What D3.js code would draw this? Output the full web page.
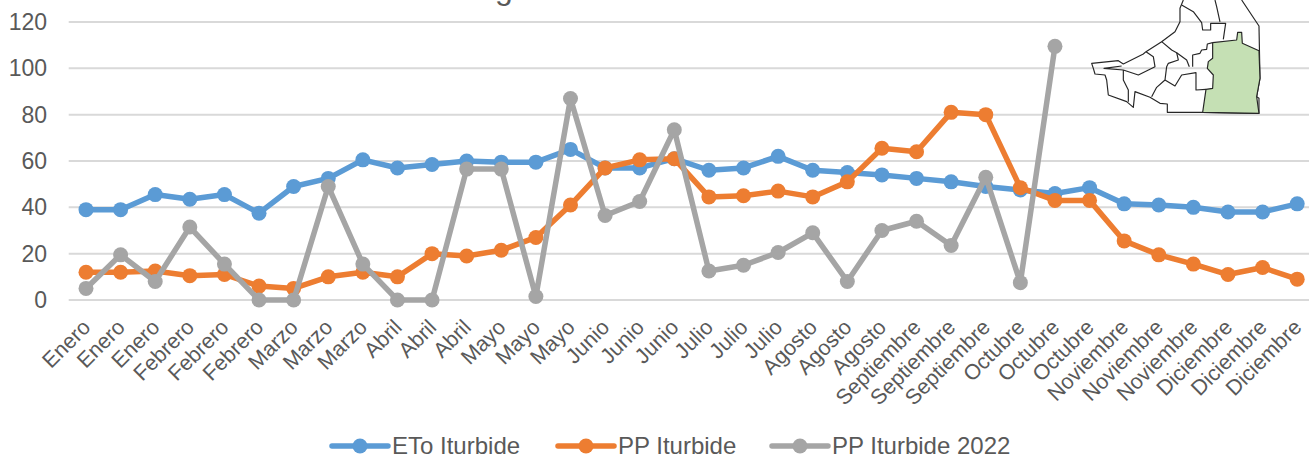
<!DOCTYPE html>
<html><head><meta charset="utf-8">
<script src="https://cdn.jsdelivr.net/npm/d3@7"></script>
<style>html,body{margin:0;padding:0;background:#fff;overflow:hidden}svg{display:block;font-family:"Liberation Sans",Arial,sans-serif}</style>
</head><body><svg id="c" width="1309" height="454"></svg>
<script>
const categories=["Enero","Enero","Enero","Febrero","Febrero","Febrero","Marzo","Marzo","Marzo","Abril","Abril","Abril","Mayo","Mayo","Mayo","Junio","Junio","Junio","Julio","Julio","Julio","Agosto","Agosto","Agosto","Septiembre","Septiembre","Septiembre","Octubre","Octubre","Octubre","Noviembre","Noviembre","Noviembre","Diciembre","Diciembre","Diciembre"];
const eto=[39,39,45.5,43.5,45.5,37.5,49,52.5,60.5,57,58.5,60,59.5,59.5,65,57,57,61,56,57,62,56,55,54,52.5,51,49,47.5,46,48.5,41.5,41,40,38,38,41.5];
const pp=[12,12,12.5,10.5,11,6,5,10,12,10,20,19,21.5,27,41,57,60.5,61,44.5,45,47,44.5,51,65.5,64,81,80,48.5,43,43,25.5,19.5,15.5,11,14,9];
const pp2022=[5,19.5,8,31.5,15.5,0,0,49,15.5,0,0,56.5,56.5,1.5,87,36.5,42.5,73.5,12.5,15,20.5,29,8,30,34,23.5,53,7.5,109.5];
const yTicks=[0,20,40,60,80,100,120];
const seriesNames=["ETo Iturbide","PP Iturbide","PP Iturbide 2022"];
const seriesColors=["#5b9bd5","#ed7d31","#a5a5a5"];
const seriesValues=[eto,pp,pp2022];
const legendX=[332,558,772];

const svg=d3.select("#c");
const x=d3.scaleBand().domain(d3.range(categories.length)).range([68.7,1314.5]);
const y=d3.scaleLinear().domain([0,120]).range([300,22]);
const font=23, txt="#595959";

svg.append("text").attr("x",504).attr("y",-1).attr("text-anchor","middle").attr("font-size",32).attr("fill",txt).text("g");

svg.append("g").selectAll("line").data(yTicks).join("line")
 .attr("x1",68.7).attr("x2",1309).attr("y1",d=>y(d)).attr("y2",d=>y(d))
 .attr("stroke","#d9d9d9").attr("stroke-width",2);

svg.append("g").selectAll("text").data(yTicks).join("text")
 .attr("x",47).attr("y",d=>y(d)+8).attr("text-anchor","end").attr("font-size",font).attr("fill",txt).text(d=>d);

svg.append("g").selectAll("text").data(categories).join("text")
 .attr("text-anchor","end").attr("font-size",21.5).attr("fill",txt)
 .attr("transform",(d,i)=>`translate(${x(i)+x.bandwidth()/2-5},${318}) rotate(-45)`)
 .attr("dy","0.7em").text(d=>d);

const mapG=svg.append("g").attr("transform","translate(1060,0) scale(0.3333)")
 .attr("fill","none").attr("stroke","#262626").attr("stroke-width",3.5).attr("stroke-linejoin","round");
const mapOutline="M370,0 L360,25 L360,65 L345,95 L305,125 L258,155 L250,162 L190,192 L175,182 L95,190 L100,205 L105,222 L135,225 L140,240 L145,285 L200,305 L220,322 L225,275 L270,292 L300,310 L322,312 L322,337 L428,337 L597,340 L597,295 L590,290 L600,235 L597,78 L585,60 L545,0";
mapG.append("path").attr("d",mapOutline);
const mapRegion="M458,128 L530,120 L533,97 L545,97 L547,130 L597,152 L600,235 L590,290 L597,340 L428,337 L438,268 L458,265 L460,225 L442,205 L445,185 L458,175 Z";
mapG.append("path").attr("d",mapRegion).attr("fill","#c5e0b4");
const mapLines=[
"M365,15 L400,35 L425,68 L428,90 L452,90 L452,70 L497,70 L490,118",
"M465,0 L470,20 L480,66",
"M305,125 L335,150 L350,158 L380,180 L388,200",
"M458,128 L442,132 L440,148 L425,150 L420,160 L398,165 L398,200",
"M258,155 L280,170 L285,200 L235,225 L190,210 L132,205 L185,198",
"M350,158 L355,180 L325,190 L320,200 L315,240 L290,262 L275,290",
"M315,240 L345,258 L365,225 L408,218 L408,270 L438,268",
"M190,210 L190,240 L205,270 L205,305"];
mapG.selectAll(".m").data(mapLines).join("path").attr("class","m").attr("d",d=>d).attr("stroke-width",3.5);

const line=d3.line().x((d,i)=>x(i)+x.bandwidth()/2).y(d=>y(d));
seriesValues.forEach((vals,k)=>{
 const g=svg.append("g");
 g.append("path").attr("d",line(vals)).attr("fill","none").attr("stroke",seriesColors[k]).attr("stroke-width",5.5).attr("stroke-linejoin","round").attr("stroke-linecap","round");
 g.selectAll("circle").data(vals).join("circle").attr("cx",(d,i)=>x(i)+x.bandwidth()/2).attr("cy",d=>y(d)).attr("r",7.5).attr("fill",seriesColors[k]);
});

const lg=svg.append("g").selectAll("g").data(seriesNames).join("g").attr("transform",(d,i)=>`translate(${legendX[i]},446)`);
lg.append("line").attr("x1",0).attr("x2",56).attr("stroke",(d,i)=>seriesColors[i]).attr("stroke-width",5.5).attr("stroke-linecap","round");
lg.append("circle").attr("cx",28).attr("r",7.5).attr("fill",(d,i)=>seriesColors[i]);
lg.append("text").attr("x",60).attr("y",8).attr("font-size",24).attr("fill",txt).text(d=>d);
</script></body></html>
